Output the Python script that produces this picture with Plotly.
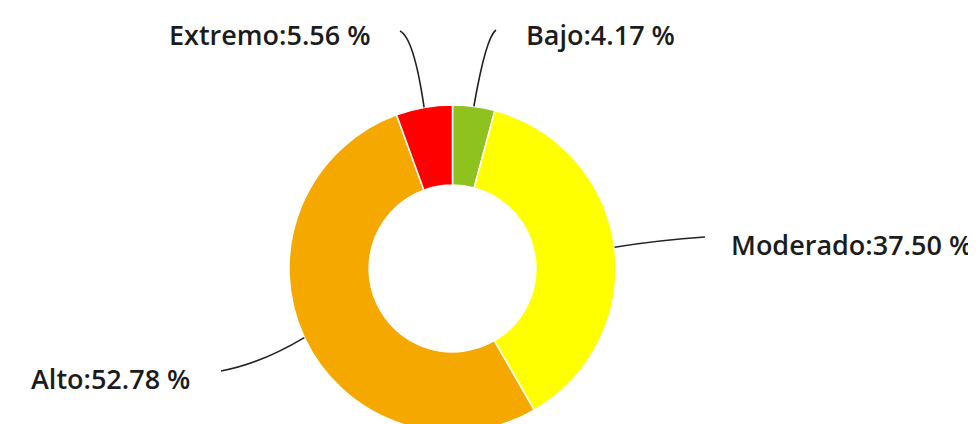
import math
import plotly.graph_objects as go

# ---- data ----
categories = ["Bajo", "Moderado", "Alto", "Extremo"]
percentages = [4.17, 37.50, 52.78, 5.56]

# ---- styles ----
colors = ["#8DC21F", "#FFFF00", "#F5A800", "#FF0000"]
W, H = 976, 424
CX, CY, R = 444.5, 260.5, 163.5   # donut centre / radius in pixels
HOLE = 0.51
FONT = dict(family="Open Sans", size=27, color="#1c1c1c", weight=600)

# label placement (pixels): text x, anchor, text y, line end x, line end y, curve ctrl x, ctrl y
label_layout = {
    "Bajo":     (516, "left", 27, 488, 22, 478, 29),
    "Moderado": (721, "left", 236, 697, 229, 652, 232),
    "Alto":     (184, "right", 370, 213, 363, 252, 356),
    "Extremo":  (365, "right", 27, 392, 23, 406, 30),
}


def px(x):
    return x / W


def py(y):
    return 1 - y / H


fig = go.Figure(
    go.Pie(
        labels=categories,
        values=percentages,
        sort=False,
        direction="clockwise",
        rotation=0,
        hole=HOLE,
        marker=dict(colors=colors, line=dict(color="white", width=1.5)),
        textinfo="none",
        hoverinfo="label+percent",
        showlegend=False,
        domain=dict(
            x=[max(0.0, px(CX - R)), min(1.0, px(CX + R))],
            y=[max(0.0, py(CY + R)), min(1.0, py(CY - R))],
        ),
    )
)

total = sum(percentages)
cum = 0.0
shapes = []
annotations = []
for cat, val in zip(categories, percentages):
    mid = (cum + val / 2) / total * 2 * math.pi
    cum += val
    sx = CX + R * math.sin(mid)
    sy = CY - R * math.cos(mid)
    tx, anchor, ty, ex, ey, cx, cy = label_layout[cat]
    path = "M {:.5f},{:.5f} Q {:.5f},{:.5f} {:.5f},{:.5f}".format(
        px(sx), py(sy), px(cx), py(cy), px(ex), py(ey)
    )
    shapes.append(
        dict(type="path", xref="paper", yref="paper", path=path,
             line=dict(color="#222222", width=1.6))
    )
    annotations.append(
        dict(text="{}:{:.2f} %".format(cat, val), x=px(tx), y=py(ty),
             xref="paper", yref="paper", xanchor=anchor, yanchor="middle",
             showarrow=False, font=FONT)
    )

fig.update_layout(
    width=W,
    height=H,
    margin=dict(l=0, r=0, t=0, b=0),
    paper_bgcolor="white",
    plot_bgcolor="white",
    shapes=shapes,
    annotations=annotations,
)

fig.write_html("out.html")
